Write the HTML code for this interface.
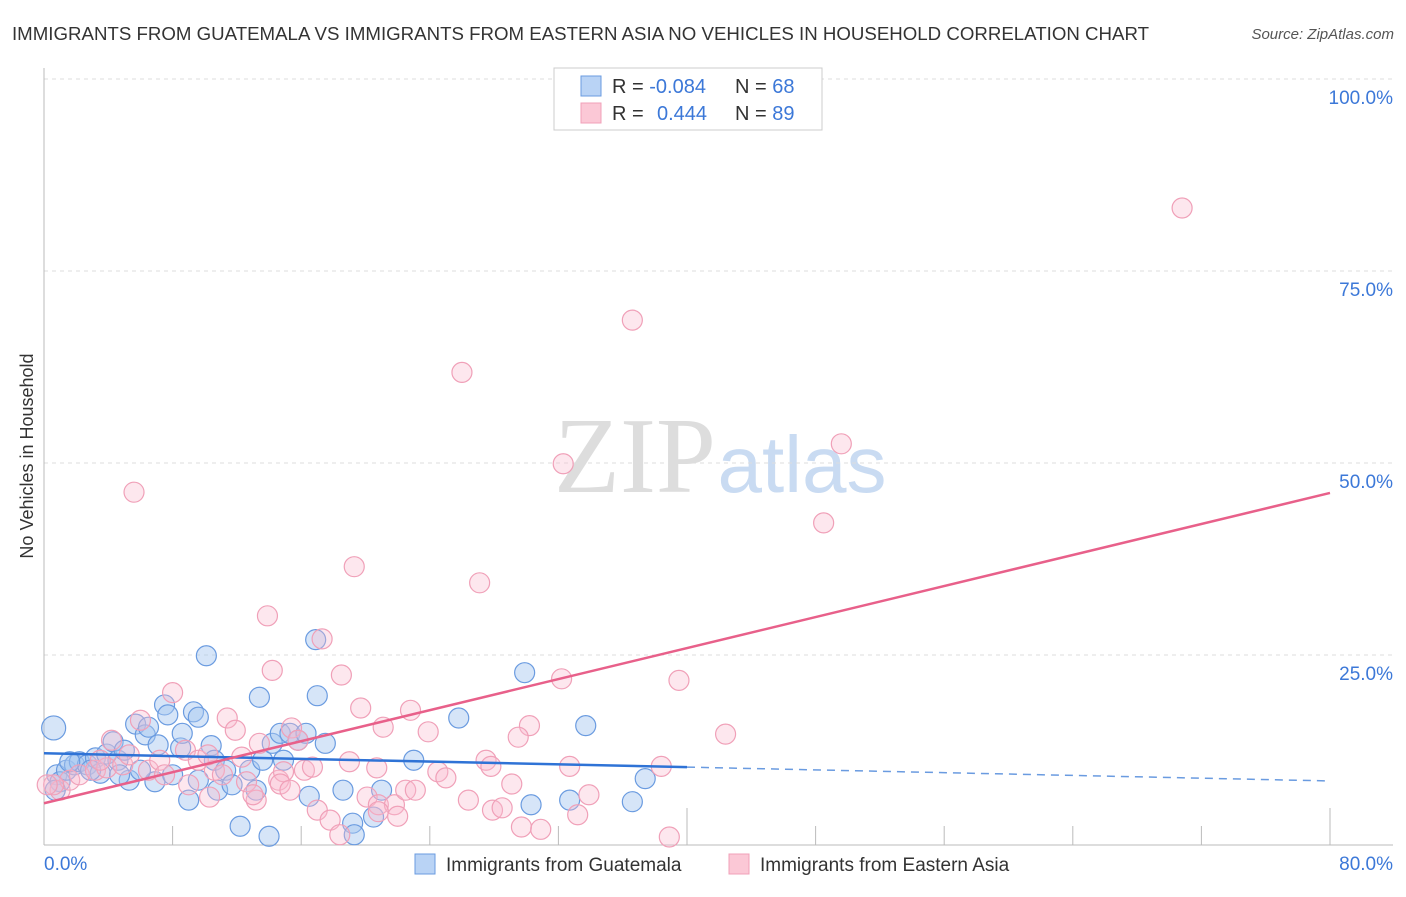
<!DOCTYPE html>
<html><head><meta charset="utf-8"><style>
body{margin:0;background:#fff;font-family:"Liberation Sans",sans-serif;}
svg text{font-family:"Liberation Sans",sans-serif;}
</style></head><body>
<svg id="chart" width="1406" height="892">
<text x="12" y="40" font-size="18" fill="#333" textLength="1137" lengthAdjust="spacingAndGlyphs">IMMIGRANTS FROM GUATEMALA VS IMMIGRANTS FROM EASTERN ASIA NO VEHICLES IN HOUSEHOLD CORRELATION CHART</text>
<text x="1394" y="39" font-size="15" fill="#555" font-style="italic" text-anchor="end">Source: ZipAtlas.com</text>
<text transform="translate(33,456) rotate(-90)" font-size="18" fill="#333" text-anchor="middle">No Vehicles in Household</text>
<g><text x="635" y="492" font-size="108" fill="#ddd" text-anchor="middle" style="font-family:'Liberation Serif',serif">ZIP</text><text x="802" y="492" font-size="80" fill="#c9dbf2" text-anchor="middle">atlas</text></g>
<g id="grid"></g><g id="axes"></g><g id="pts"></g><g id="trend"></g>
<g>
<rect x="554" y="68" width="268" height="62" fill="#fff" stroke="#ccc"/>
<rect x="581" y="76" width="20" height="20" fill="#b9d3f5" stroke="#6a9be0"/>
<rect x="581" y="103" width="20" height="20" fill="#fbc8d6" stroke="#f0a0b8"/>
<text x="612" y="93" font-size="20" fill="#333">R = <tspan fill="#3c78d8">-0.084</tspan></text>
<text x="735" y="93" font-size="20" fill="#333">N = <tspan fill="#3c78d8">68</tspan></text>
<text x="612" y="120" font-size="20" fill="#333">R = <tspan fill="#3c78d8" x="657">0.444</tspan></text>
<text x="735" y="120" font-size="20" fill="#333">N = <tspan fill="#3c78d8">89</tspan></text>
</g>
<g>
<rect x="415" y="854" width="20" height="20" fill="#b9d3f5" stroke="#6a9be0"/>
<text x="446" y="871" font-size="19" fill="#333">Immigrants from Guatemala</text>
<rect x="729" y="854" width="20" height="20" fill="#fbc8d6" stroke="#f0a0b8"/>
<text x="760" y="871" font-size="19" fill="#333">Immigrants from Eastern Asia</text>
</g>
</svg>
<script>
const blueX=[0.6,0.8,1.0,1.4,1.9,2.2,2.7,3.2,3.5,3.9,4.3,4.6,5.0,5.3,5.7,6.3,6.5,6.9,7.1,7.5,7.7,8.0,8.5,8.6,9.0,9.3,9.6,9.6,10.1,10.4,10.6,10.8,11.3,11.7,12.2,12.8,13.2,13.4,13.6,14.0,14.2,14.7,14.9,15.3,15.8,16.3,16.5,16.9,17.0,17.5,18.6,19.2,19.3,20.5,21.0,23.0,25.8,29.9,30.3,32.7,33.7,36.6,37.4,0.7,1.6,2.9,4.7,6.0];
const blueY=[15.5,9.4,8.5,10.0,10.7,11.1,10.7,11.6,9.6,12.1,13.7,11.3,12.6,8.7,16.0,14.6,15.6,8.5,13.3,18.5,17.2,9.4,12.9,14.8,6.1,17.6,16.9,8.7,24.9,13.2,11.3,7.4,10.0,8.1,2.7,10.0,7.4,19.5,11.3,1.4,13.5,14.8,11.3,14.8,13.9,14.8,6.6,27.0,19.7,13.5,7.4,3.1,1.6,3.9,7.4,11.3,16.8,22.7,5.5,6.1,15.8,5.9,8.9,7.4,11.1,10.0,9.4,10.0];
const pinkX=[70.8,36.6,26.0,32.3,49.6,48.5,5.6,19.3,27.1,13.9,17.3,14.2,18.5,32.2,39.5,8.0,19.7,22.8,11.4,11.9,21.1,23.9,30.2,29.5,42.4,4.2,6.0,8.8,9.6,12.3,13.4,15.4,15.8,14.6,14.9,16.2,16.7,19.0,20.7,24.5,25.0,27.5,27.8,29.1,32.7,38.4,1.0,1.6,0.6,2.2,3.2,3.9,4.9,5.3,6.5,7.2,7.5,9.0,10.3,10.6,11.1,12.6,13.2,14.7,17.0,17.8,18.4,20.1,20.8,21.8,22.0,22.5,23.1,26.4,27.9,28.5,29.7,30.9,33.2,33.9,38.9,0.2,3.5,10.2,13.0,15.3,20.8];
const pinkY=[83.2,68.6,61.8,49.9,52.5,42.2,46.2,36.5,34.4,30.1,27.1,23.0,22.4,21.9,21.7,20.1,18.1,17.8,16.8,15.2,15.6,15.0,15.8,14.3,14.7,13.9,16.5,12.6,11.3,11.7,13.5,15.5,13.9,8.7,9.8,10.0,10.4,11.1,10.3,9.8,9.0,11.3,10.5,8.2,10.5,10.5,7.4,8.7,8.1,9.4,10.0,10.3,10.7,12.0,10.0,11.3,9.4,8.1,6.5,10.0,9.4,8.5,6.1,8.2,4.8,3.5,1.6,6.5,5.5,5.5,4.0,7.4,7.4,6.1,4.8,5.1,2.6,2.3,4.2,6.8,1.3,8.1,11.3,12.0,6.8,7.4,4.6];
const blueTrend=[12.2,8.6];   // y at x=0 and x=80
const blueSolidEnd=40;
const pinkTrend=[5.7,46.1];
const yTicks=[25,50,75,100];
const yTickLabels=["25.0%","50.0%","75.0%","100.0%"];
const xTicks=[8,16,24,32,40,48,56,64,72,80];
const NS="http://www.w3.org/2000/svg";
const sx=v=>44+v/80*1286, sy=v=>847-v/100*768;
function mk(tag,attrs,parent){const e=document.createElementNS(NS,tag);for(const k in attrs)e.setAttribute(k,attrs[k]);document.getElementById(parent).appendChild(e);return e;}
yTicks.forEach((t,i)=>{
 const g=mk('line',{x1:44,x2:1393,y1:sy(t),y2:sy(t),stroke:'#ddd','stroke-dasharray':'4,4'},'grid');
 
 
 const l=mk('text',{x:1393,y:sy(t)+25,'text-anchor':'end','font-size':19,fill:'#3c78d8'},'axes');
 l.textContent=yTickLabels[i];
 
 
});
let a=mk('line',{x1:44,x2:44,y1:68,y2:845,stroke:'#bbb'},'axes');


a=mk('line',{x1:44,x2:1393,y1:845,y2:845,stroke:'#bbb'},'axes');


xTicks.forEach(t=>{const big=(t%40===0);const e=mk('line',{x1:sx(t),x2:sx(t),y1:big?808:826,y2:845,stroke:'#bbb'},'axes');
 
 });
let xl=mk('text',{x:44,y:870,'font-size':19,fill:'#3c78d8'},'axes');xl.textContent='0.0%';


xl=mk('text',{x:1393,y:870,'font-size':19,fill:'#3c78d8','text-anchor':'end'},'axes');xl.textContent='80.0%';


blueX.forEach((x,i)=>{const c=mk('circle',{cx:sx(x),cy:sy(blueY[i]),r:i===0?12:10,fill:'rgba(164,198,240,0.45)',stroke:'#6a9be0','stroke-width':1.2},'pts');
 
 });
pinkX.forEach((x,i)=>{const c=mk('circle',{cx:sx(x),cy:sy(pinkY[i]),r:10,fill:'rgba(248,185,205,0.35)',stroke:'#f0a0b8','stroke-width':1.2},'pts');
 
 });
const bY=x=>blueTrend[0]+(blueTrend[1]-blueTrend[0])*x/80;
let t1=mk('line',{x1:sx(0),y1:sy(bY(0)),x2:sx(blueSolidEnd),y2:sy(bY(blueSolidEnd)),stroke:'#2f73d6','stroke-width':2.5},'trend');


t1=mk('line',{x1:sx(blueSolidEnd),y1:sy(bY(blueSolidEnd)),x2:sx(80),y2:sy(bY(80)),stroke:'#6a9be0','stroke-width':1.5,'stroke-dasharray':'8,6'},'trend');


t1=mk('line',{x1:sx(0),y1:sy(pinkTrend[0]),x2:sx(80),y2:sy(pinkTrend[1]),stroke:'#e8608a','stroke-width':2.5},'trend');


</script>
</body></html>
